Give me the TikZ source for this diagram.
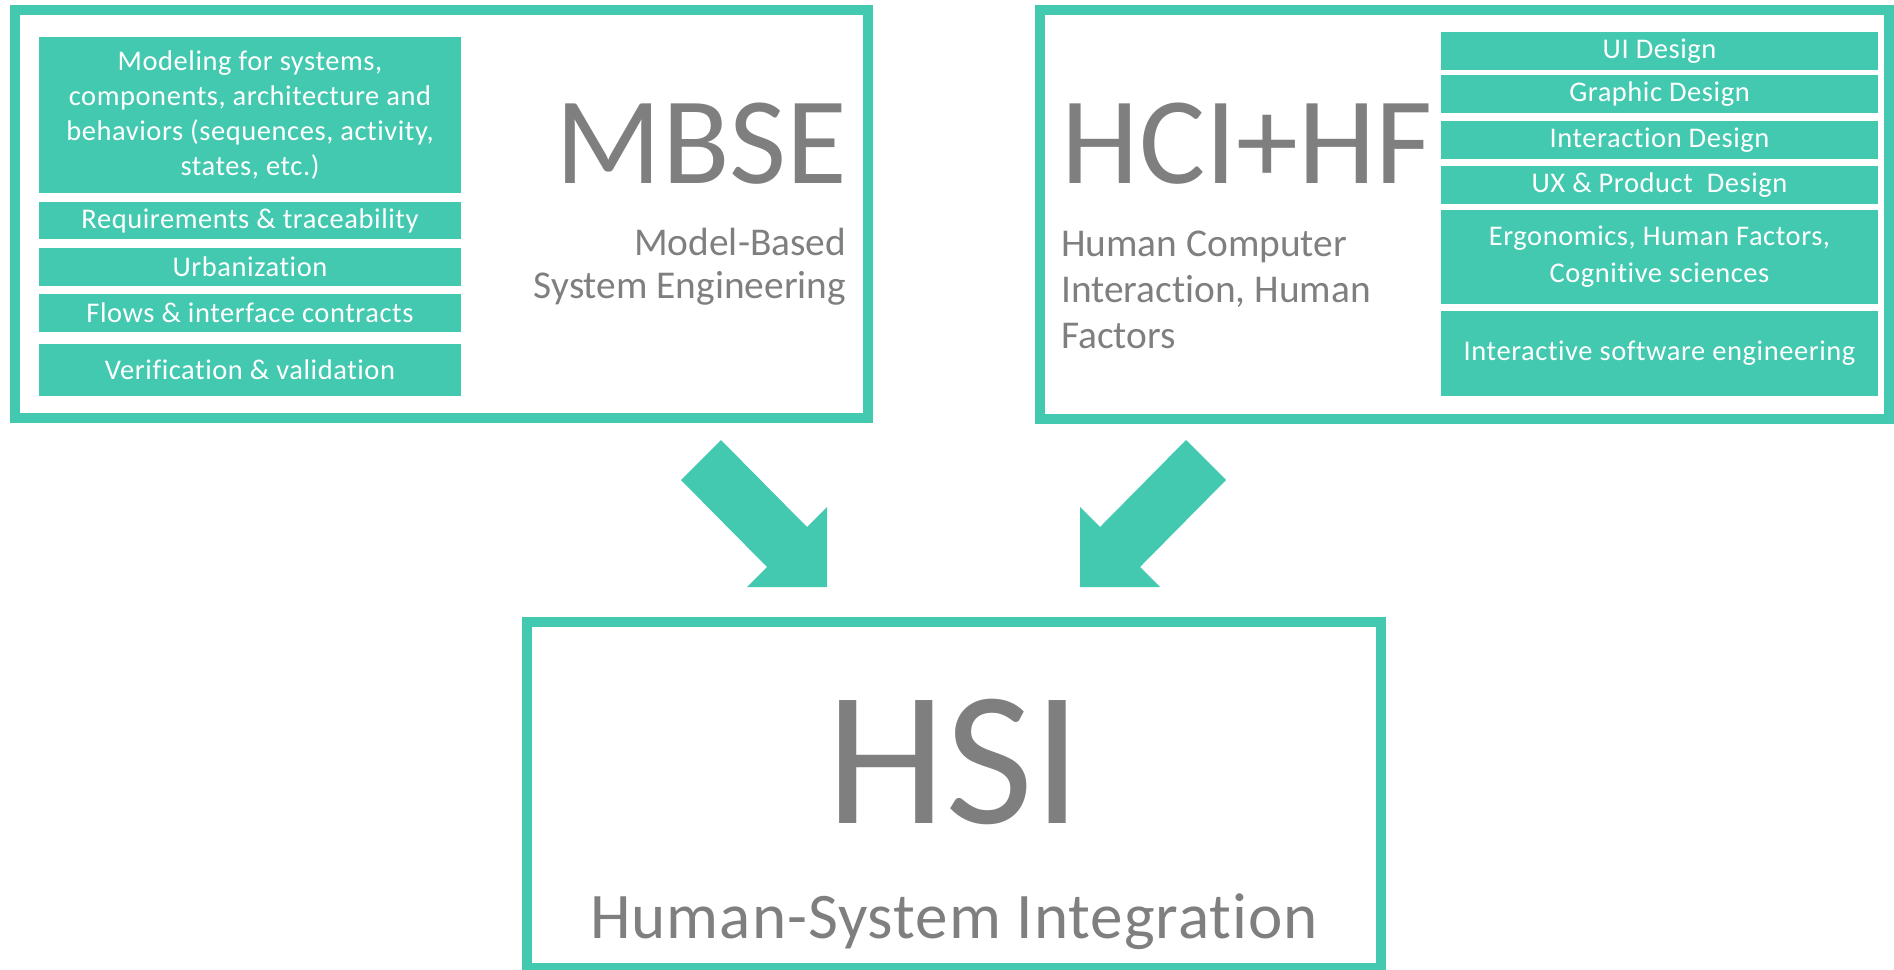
\documentclass[tikz,border=0pt]{standalone}
\usepackage{fontspec}
\setmainfont{Carlito}[Ligatures=NoCommon]
\newfontfamily\boxfont{Carlito}[Ligatures=NoCommon, LetterSpace=2]
\newfontfamily\widefont{Carlito}[Ligatures=NoCommon, LetterSpace=1.5]
\usetikzlibrary{positioning}
\definecolor{hsiteal}{RGB}{67,201,176}
\definecolor{hsigray}{RGB}{127,127,127}

\tikzset{
  frame/.style={draw=hsiteal, line width=0.1cm, rectangle, inner sep=0pt},
  tealbox/.style={fill=hsiteal, rectangle, inner sep=0pt, text=white, align=center},
  bigarrow/.style={fill=hsiteal}
}

\begin{document}
\begin{tikzpicture}[x=0.01cm, y=-0.01cm]
    \useasboundingbox (0,0) rectangle (1894,969);

    % MBSE frame
    \node[frame, minimum width=8.53cm, minimum height=4.08cm] (mbse) at (441.5,214) {};
    \node[tealbox, minimum width=4.22cm, minimum height=1.56cm, font=\boxfont\fontsize{8.1}{9.96}\selectfont] (modeling) at (250,115)
        {Modeling for systems,\\components, architecture and\\behaviors (sequences, activity,\\states, etc.)};
    \foreach \n/\y/\h/\t in {req/220.5/0.37/Requirements \& traceability,
                             urban/267/0.38/Urbanization,
                             flows/313/0.38/Flows \& interface contracts,
                             verif/370/0.52/Verification \& validation} {
        \node[tealbox, minimum width=4.22cm, minimum height=\h cm, font=\boxfont\fontsize{8.1}{9.96}\selectfont] (\n) at (250,\y) {\t};
    }
    \node[anchor=base east, text=hsigray, inner sep=0pt, font=\fontsize{35.3}{40}\selectfont] (mbsetitle) at (848,183) {MBSE};
    \node[anchor=center, text=hsigray, inner sep=0pt, align=right, font=\fontsize{11.2}{12.2}\selectfont] (mbsesub) at (690,267)
        {\hfill Model-Based\\System Engineering};

    % HCI+HF frame
    \node[frame, minimum width=8.49cm, minimum height=4.085cm] (hci) at (1464.5,214.25) {};
    \foreach \n/\y/\t in {ui/51/UI Design,
                          graphic/94/Graphic Design,
                          interact/140/Interaction Design,
                          ux/185/UX \& Product~ Design} {
        \node[tealbox, minimum width=4.37cm, minimum height=0.38cm, font=\boxfont\fontsize{8.1}{10.5}\selectfont] (\n) at (1659.5,\y) {\t};
    }
    \node[tealbox, minimum width=4.37cm, minimum height=0.94cm, font=\boxfont\fontsize{8.1}{10.5}\selectfont] (ergo) at (1659.5,257)
        {Ergonomics, Human Factors,\\Cognitive sciences};
    \node[tealbox, minimum width=4.37cm, minimum height=0.85cm, font=\boxfont\fontsize{8.1}{10.5}\selectfont] (soft) at (1659.5,353.5)
        {Interactive software engineering};
    \node[anchor=base west, text=hsigray, inner sep=0pt, font=\fontsize{35.3}{40}\selectfont] (hcititle) at (1061,183) {HCI+HF};
    \node[anchor=center, text=hsigray, inner sep=0pt, align=left, font=\fontsize{11.2}{13.1}\selectfont] (hcisub) at (1216,290)
        {Human Computer\\Interaction, Human\\Factors};

    % Arrows into HSI
    \coordinate (tipL) at (827,587);
    \coordinate (tipR) at (1080,587);
    \fill[bigarrow] (tipL) -- ++(-80,0) -- ++(20,-20) -- ++(-86,-87) -- ++(40,-40) -- ++(86,87) -- ++(20,-20) -- cycle;
    \fill[bigarrow] (tipR) -- ++(80,0) -- ++(-20,-20) -- ++(86,-87) -- ++(-40,-40) -- ++(-86,87) -- ++(-20,-20) -- cycle;

    % HSI frame
    \node[frame, minimum width=8.53cm, minimum height=3.46cm] (hsi) at (954,795) {};
    \node[anchor=base, text=hsigray, inner sep=0pt, font=\fontsize{54.5}{60}\selectfont] (hsititle) at (954,823) {HSI};
    \node[anchor=base, text=hsigray, inner sep=0pt, font=\widefont\fontsize{18.5}{20}\selectfont] (hsisub) at (954,938) {Human-System Integration};
\end{tikzpicture}
\end{document}
